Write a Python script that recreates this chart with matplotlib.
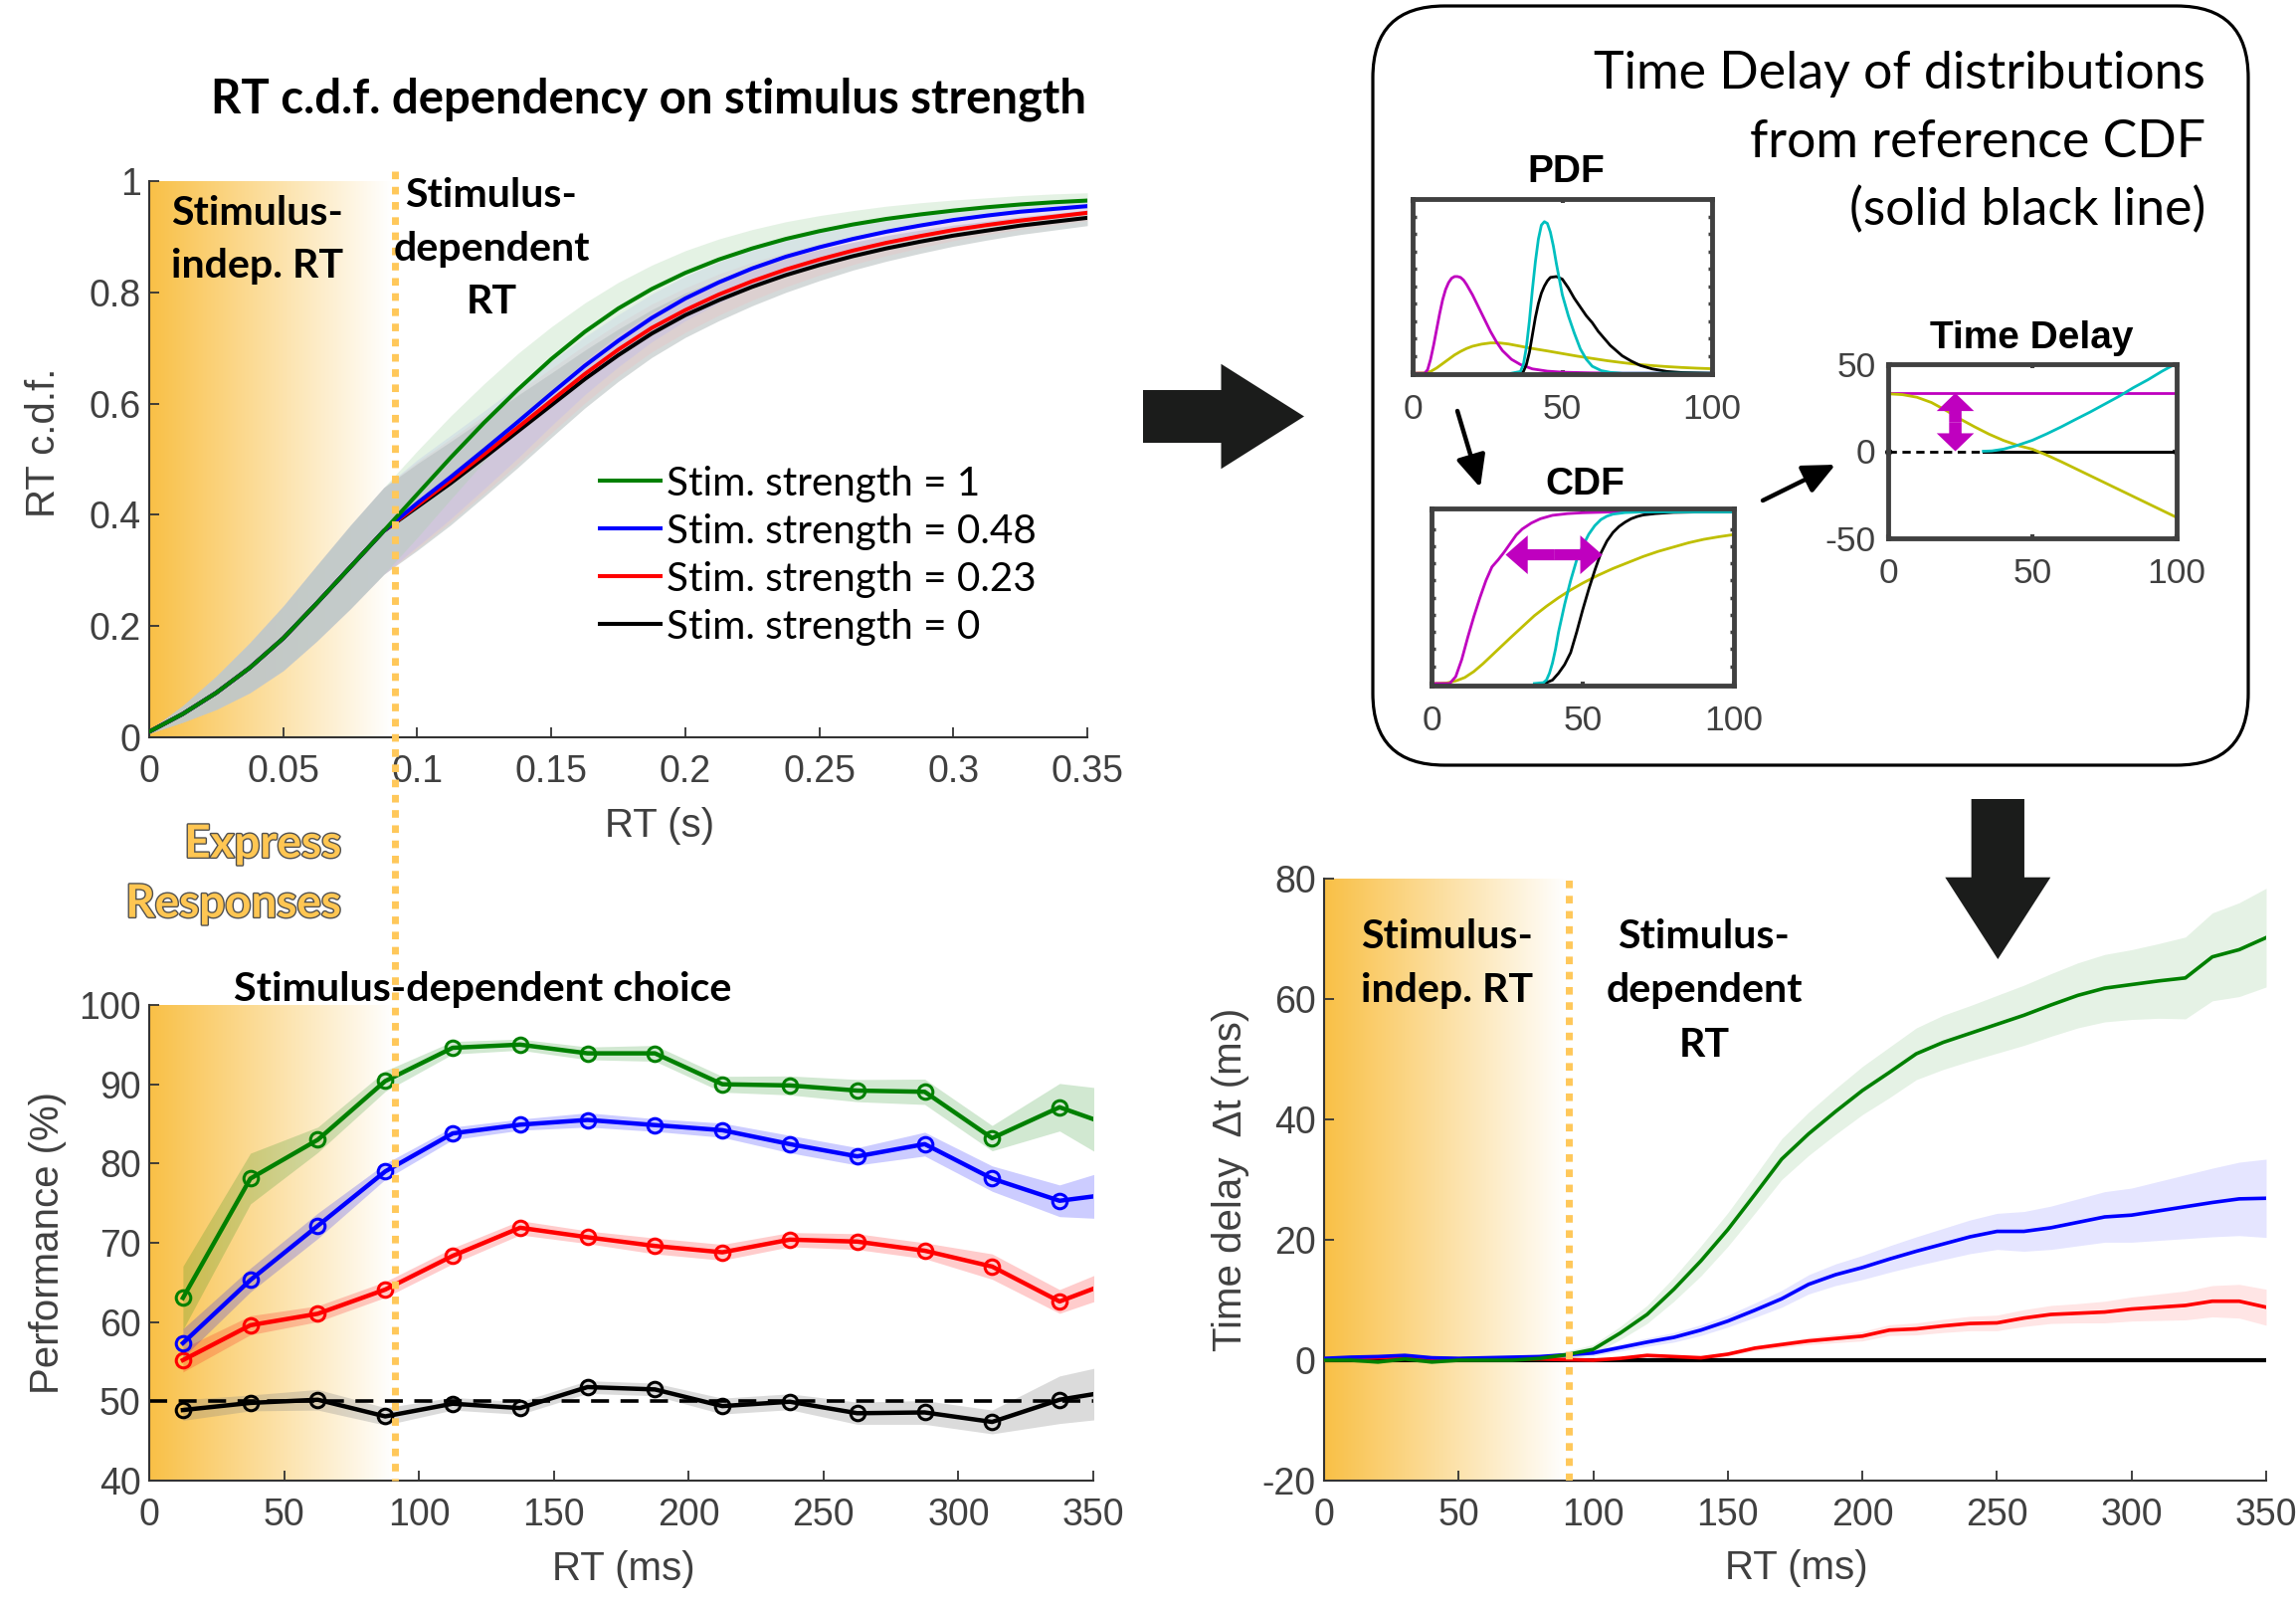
import numpy as np
import matplotlib
matplotlib.use("Agg")
import matplotlib.pyplot as plt
from matplotlib.patches import FancyBboxPatch, FancyArrow, FancyArrowPatch
from matplotlib.colors import to_rgb
import matplotlib.patheffects as pe

# ====================== DATA ======================
# --- top-left: RT c.d.f. (RT in s) ---
cdf_rt = [0.0, 0.0125, 0.025, 0.0375, 0.05, 0.0625, 0.075, 0.0875, 0.1, 0.1125,
          0.125, 0.1375, 0.15, 0.1625, 0.175, 0.1875, 0.2, 0.2125, 0.225, 0.2375,
          0.25, 0.2625, 0.275, 0.2875, 0.3, 0.3125, 0.325, 0.3375, 0.35]
cdf_early = [0.01, 0.042, 0.08, 0.125, 0.178, 0.241, 0.306, 0.371]
cdf_s1 = cdf_early + [0.437, 0.503, 0.566, 0.625, 0.68, 0.729, 0.771, 0.806, 0.835, 0.859,
                      0.879, 0.896, 0.91, 0.922, 0.932, 0.94, 0.947, 0.953, 0.958, 0.962, 0.965]
cdf_s048 = cdf_early + [0.421, 0.468, 0.517, 0.567, 0.618, 0.668, 0.713, 0.754, 0.789, 0.818,
                        0.843, 0.864, 0.881, 0.896, 0.909, 0.92, 0.93, 0.938, 0.945, 0.95, 0.955]
cdf_s023 = cdf_early + [0.417, 0.462, 0.509, 0.557, 0.605, 0.653, 0.697, 0.736, 0.768, 0.796,
                        0.82, 0.841, 0.859, 0.875, 0.889, 0.901, 0.912, 0.921, 0.929, 0.936, 0.943]
cdf_s0 = cdf_early + [0.414, 0.457, 0.503, 0.55, 0.597, 0.644, 0.687, 0.726, 0.759, 0.786,
                      0.81, 0.831, 0.849, 0.865, 0.879, 0.891, 0.902, 0.911, 0.92, 0.927, 0.934]
cdf_band = [0.003, 0.015, 0.03, 0.045, 0.058, 0.068, 0.075, 0.078, 0.078, 0.075, 0.07, 0.065,
            0.058, 0.052, 0.047, 0.043, 0.04, 0.037, 0.034, 0.031, 0.028, 0.025, 0.023, 0.021,
            0.019, 0.017, 0.016, 0.015, 0.014]
cdf_xticks = [0, 0.05, 0.1, 0.15, 0.2, 0.25, 0.3, 0.35]
cdf_xticklabels = ["0", "0.05", "0.1", "0.15", "0.2", "0.25", "0.3", "0.35"]
cdf_yticks = [0, 0.2, 0.4, 0.6, 0.8, 1.0]
cdf_yticklabels = ["0", "0.2", "0.4", "0.6", "0.8", "1"]
legend_labels = ["Stim. strength = 1", "Stim. strength = 0.48",
                 "Stim. strength = 0.23", "Stim. strength = 0"]

# --- bottom-left: performance (%) vs RT (ms) ---
perf_rt = [12.5, 37.5, 62.5, 87.5, 112.5, 137.5, 162.5, 187.5, 212.5, 237.5,
           262.5, 287.5, 312.5, 337.5, 362.5]
perf_s1 = [63.05, 78.1, 83.0, 90.4, 94.6, 95.0, 93.9, 93.9, 90.0, 89.85, 89.2, 89.05, 83.2, 87.1, 84.1]
perf_s048 = [57.35, 65.3, 72.15, 79.0, 83.8, 84.9, 85.5, 84.85, 84.2, 82.45, 80.9, 82.45, 78.1, 75.3, 76.4]
perf_s023 = [55.2, 59.6, 61.05, 64.1, 68.35, 71.9, 70.7, 69.6, 68.8, 70.4, 70.15, 69.0, 67.0, 62.6, 65.8]
perf_s0 = [48.9, 49.8, 50.2, 48.1, 49.7, 49.15, 51.8, 51.5, 49.4, 49.95, 48.5, 48.6, 47.4, 50.2, 51.6]
perf_b1 = [4.0, 3.2, 1.6, 1.3, 0.8, 0.7, 0.8, 1.0, 1.0, 1.2, 1.4, 1.6, 1.6, 3.0, 5.0]
perf_b048 = [1.8, 1.5, 1.6, 1.0, 0.8, 0.7, 0.9, 0.8, 0.9, 1.1, 1.1, 1.5, 1.6, 2.0, 3.5]
perf_b023 = [1.5, 1.2, 1.0, 1.0, 1.0, 0.9, 0.8, 1.0, 1.0, 0.9, 1.0, 1.0, 1.6, 1.5, 1.8]
perf_b0 = [1.3, 1.0, 1.3, 1.1, 0.8, 0.8, 0.8, 0.8, 1.0, 1.0, 1.4, 1.5, 1.5, 3.0, 3.5]
chance_level = 50
perf_xticks = [0, 50, 100, 150, 200, 250, 300, 350]
perf_yticks = [40, 50, 60, 70, 80, 90, 100]

# --- bottom-right: time delay (ms) vs RT (ms) ---
td_rt = [0, 10, 20, 30, 40, 50, 60, 70, 80, 90, 100, 110, 120, 130, 140, 150, 160, 170,
         180, 190, 200, 210, 220, 230, 240, 250, 260, 270, 280, 290, 300, 310, 320, 330, 340, 350]
td_s1 = [0, 0, -0.3, 0.2, -0.3, 0, 0, 0, 0.3, 0.9,
         1.8, 4.5, 7.6, 11.8, 16.5, 21.7, 27.5, 33.4, 37.6, 41.3,
         44.8, 47.8, 50.9, 52.8, 54.3, 55.8, 57.3, 59.0, 60.6, 61.8,
         62.4, 63.0, 63.5, 67.0, 68.2, 70.2]
td_s048 = [0.3, 0.5, 0.6, 0.8, 0.4, 0.3, 0.4, 0.5, 0.6, 0.9,
           1.2, 2.1, 3.0, 3.8, 5.0, 6.5, 8.3, 10.2, 12.6, 14.2,
           15.4, 16.8, 18.1, 19.3, 20.5, 21.4, 21.4, 22.0, 22.9, 23.8,
           24.1, 24.8, 25.5, 26.2, 26.8, 26.9]
td_s023 = [0, 0.2, 0.4, 0.5, 0.3, 0.2, 0.3, 0.2, 0.2, 0.1,
           0.0, 0.3, 0.8, 0.6, 0.4, 1.0, 2.0, 2.6, 3.2, 3.6,
           4.0, 5.0, 5.2, 5.7, 6.1, 6.2, 7.0, 7.6, 7.8, 8.0,
           8.5, 8.8, 9.1, 9.8, 9.8, 8.8]
td_s0 = [0, 0, 0, 0, 0, 0, 0, 0, 0, 0, 0, 0, 0, 0, 0, 0, 0, 0,
         0, 0, 0, 0, 0, 0, 0, 0, 0, 0, 0, 0, 0, 0, 0, 0, 0, 0]
td_b1 = [0.3, 0.3, 0.3, 0.3, 0.3, 0.3, 0.3, 0.3, 0.4, 0.6, 0.8, 1.1, 1.5, 2.0, 2.5, 2.8, 3.1, 3.4,
         3.6, 3.8, 4.0, 4.2, 4.3, 4.5, 4.6, 4.8, 5.0, 5.2, 5.4, 5.6, 5.8, 6.2, 6.8, 7.3, 7.8, 8.2]
td_b048 = [0.3, 0.3, 0.3, 0.3, 0.3, 0.3, 0.3, 0.3, 0.3, 0.4, 0.5, 0.6, 0.7, 0.8, 0.9, 1.0, 1.2, 1.4,
           1.6, 1.8, 2.0, 2.2, 2.4, 2.6, 2.8, 3.0, 3.3, 3.6, 3.9, 4.2, 4.5, 4.9, 5.3, 5.7, 6.1, 6.5]
td_b023 = [0.3, 0.3, 0.3, 0.3, 0.3, 0.3, 0.3, 0.3, 0.3, 0.3, 0.3, 0.3, 0.3, 0.3, 0.3, 0.3, 0.4, 0.5,
           0.6, 0.7, 0.8, 0.9, 1.0, 1.1, 1.2, 1.3, 1.4, 1.5, 1.6, 1.8, 2.0, 2.2, 2.4, 2.6, 2.8, 3.0]
td_xticks = [0, 50, 100, 150, 200, 250, 300, 350]
td_yticks = [-20, 0, 20, 40, 60, 80]
td_yticklabels = ["-20", "0", "20", "40", "60", "80"]

divide_ms = 91  # boundary stimulus-independent / dependent RT

# --- schematic inset: PDF ---
pdf_m_x = [0, 4, 5, 6, 7, 8, 9, 10, 11, 12, 13, 14, 15, 16, 17, 18, 20, 22, 24, 26, 28, 30, 33, 36, 40, 45, 50, 60, 70, 100]
pdf_m_y = [0, 0, 0.02, 0.08, 0.16, 0.25, 0.34, 0.42, 0.48, 0.52, 0.545, 0.555, 0.555, 0.55, 0.535, 0.51,
           0.45, 0.38, 0.31, 0.24, 0.18, 0.13, 0.08, 0.05, 0.025, 0.012, 0.006, 0.002, 0, 0]
pdf_c_x = [33, 36, 37, 38, 39, 40, 41, 42, 43, 44, 45, 46, 47, 48, 49, 50, 52, 54, 56, 58, 60, 63, 66, 70, 100]
pdf_c_y = [0, 0.01, 0.05, 0.15, 0.3, 0.48, 0.64, 0.77, 0.85, 0.87, 0.86, 0.81, 0.73, 0.63, 0.54, 0.45,
           0.33, 0.23, 0.14, 0.08, 0.04, 0.015, 0.005, 0, 0]
pdf_k_x = [36, 37, 38, 39, 40, 41, 42, 43, 44, 45, 46, 48, 50, 52, 54, 56, 58, 60, 62, 64, 66, 68, 70,
           73, 76, 80, 85, 90, 100]
pdf_k_y = [0, 0.01, 0.05, 0.12, 0.22, 0.32, 0.4, 0.46, 0.5, 0.53, 0.55, 0.555, 0.54, 0.49, 0.43, 0.38,
           0.33, 0.29, 0.24, 0.2, 0.16, 0.13, 0.1, 0.07, 0.045, 0.025, 0.01, 0.004, 0]
pdf_y_x = [0, 4, 6, 8, 10, 12, 14, 16, 18, 20, 23, 26, 29, 32, 36, 40, 45, 50, 55, 60, 65, 70, 75,
           80, 85, 90, 95, 100]
pdf_y_y = [0, 0.002, 0.01, 0.03, 0.055, 0.08, 0.105, 0.125, 0.142, 0.155, 0.167, 0.174, 0.174, 0.168,
           0.155, 0.142, 0.128, 0.113, 0.098, 0.085, 0.072, 0.061, 0.051, 0.044, 0.038, 0.033, 0.029, 0.026]
# --- schematic inset: CDF ---
icdf_m_x = [0, 6, 8, 10, 12, 14, 16, 18, 20, 22, 24, 26, 28, 30, 33, 36, 40, 45, 50, 60, 100]
icdf_m_y = [0, 0, 0.04, 0.14, 0.27, 0.39, 0.5, 0.6, 0.68, 0.72, 0.765, 0.815, 0.865, 0.9, 0.935,
            0.96, 0.98, 0.99, 0.995, 1, 1]
icdf_c_x = [34, 37, 38, 39, 40, 41, 42, 43, 44, 45, 46, 47, 48, 50, 52, 54, 56, 58, 60, 64, 70, 100]
icdf_c_y = [0, 0.005, 0.02, 0.06, 0.12, 0.2, 0.3, 0.38, 0.46, 0.53, 0.6, 0.66, 0.72, 0.8, 0.87,
            0.92, 0.955, 0.975, 0.987, 0.996, 1, 1]
icdf_k_x = [36, 38, 40, 42, 44, 46, 48, 50, 52, 54, 56, 58, 60, 62, 64, 66, 68, 70, 74, 80, 90, 100]
icdf_k_y = [0, 0.005, 0.02, 0.06, 0.11, 0.18, 0.3, 0.43, 0.55, 0.66, 0.76, 0.83, 0.88, 0.915, 0.94,
            0.96, 0.973, 0.982, 0.99, 0.997, 1, 1]
icdf_y_x = [0, 5, 8, 11, 14, 17, 20, 23, 26, 30, 34, 38, 42, 46, 50, 55, 60, 65, 70, 75, 80, 85, 90, 95, 100]
icdf_y_y = [0, 0.003, 0.015, 0.035, 0.07, 0.115, 0.165, 0.215, 0.265, 0.33, 0.395, 0.45, 0.5, 0.545,
            0.585, 0.63, 0.67, 0.705, 0.74, 0.77, 0.795, 0.82, 0.84, 0.855, 0.868]
# --- schematic inset: time delay ---
itd_m_x = [0, 100]
itd_m_y = [33.4, 33.4]
itd_y_x = [0, 5, 10, 15, 20, 25, 30, 35, 40, 45, 50, 55, 60, 65, 70, 75, 80, 85, 90, 95, 100]
itd_y_y = [33, 32.5, 31, 28, 23.5, 18.5, 14, 9.8, 6.2, 3.3, 1.2, -2.2, -6, -10, -14, -18, -22, -26,
           -30, -34, -38]
itd_c_x = [33, 36, 40, 45, 50, 55, 60, 65, 70, 75, 80, 85, 90, 95, 100]
itd_c_y = [0, 0.2, 1.2, 3.5, 6.3, 10, 14, 18.3, 22.5, 27, 31.5, 36.5, 41, 46, 50.5]
itd_kdash_x = [0, 33]
itd_kdash_y = [0, 0]
itd_k_x = [33, 100]
itd_k_y = [0, 0]
inset_xticks = [0, 50, 100]
itd_yticks = [-50, 0, 50]
itd_yticklabels = ["-50", "0", "50"]
inset_minor = [0.1, 0.2, 0.3, 0.4, 0.5, 0.6, 0.7, 0.8, 0.9]

# ====================== STYLE ======================
W, H = 2308, 1609
GREEN, BLUE, RED, BLACK = "#008000", "#0000FF", "#FF0000", "#000000"
MAG, CYA, YEL = "#BF00BF", "#00BFBF", "#BFBF00"
ORANGE = "#F9C046"
DOT = "#FFC85A"
AXC = "#333333"
TXT = "#404040"
CAL = "Lato"
plt.rcParams["font.family"] = ["Liberation Sans", "DejaVu Sans"]

fig = plt.figure(figsize=(W / 100, H / 100), dpi=100)
R = fig.canvas.get_renderer()


def px_axes(x0, y0, x1, y1, **kw):
    return fig.add_axes([x0 / W, 1 - y1 / H, (x1 - x0) / W, (y1 - y0) / H], **kw)


def lab_coords(ax, px, py):
    return ax.transAxes.inverted().transform((px, H - py))


def gradient(ax, x1, y0, y1):
    t = np.linspace(0, 1, 256)[:, None]
    c0 = np.array(to_rgb(ORANGE))[None, :]
    img = (c0 * (1 - t) + np.ones((1, 3)) * t)[None, :, :]
    ax.imshow(img, extent=[0, x1, y0, y1], aspect="auto", zorder=0, interpolation="bilinear")


def style_main(ax):
    for s in ["top", "right"]:
        ax.spines[s].set_visible(False)
    for s in ["left", "bottom"]:
        ax.spines[s].set_color(AXC)
        ax.spines[s].set_linewidth(1.5)
    ax.tick_params(direction="in", length=7, width=1.3, color=AXC, labelcolor=TXT, labelsize=27)
    ax.tick_params(axis="x", pad=12)
    ax.tick_params(axis="y", pad=6)


def style_inset(ax):
    for s in ax.spines.values():
        s.set_color("#404040")
        s.set_linewidth(3.5)
    ax.tick_params(direction="in", top=True, right=True, length=3, width=3, color="#404040",
                   labelcolor=TXT, labelsize=25.5, pad=9)
    ax.tick_params(axis="x", pad=14)
    ax.set_xlim(0, 100)
    ax.set_xticks(inset_xticks)


def fit(texts, ref, width):
    w = ref.get_window_extent(R).width
    f = ref.get_fontsize() * width / w
    for t in texts:
        t.set_fontsize(f)
    return f


# ====================== AXES ======================
ax1 = px_axes(150, 182, 1093, 741)
ax2 = px_axes(150, 1010, 1099, 1488)
ax3 = px_axes(1331, 883, 2278, 1488)
axp = px_axes(1420, 200, 1721, 376)
axc = px_axes(1439, 511, 1743, 689)
axt = px_axes(1898, 366, 2188, 541)
ov = fig.add_axes([0, 0, 1, 1], zorder=10)
ov.set_xlim(0, W)
ov.set_ylim(H, 0)
ov.axis("off")

# ---------- top-left ----------
gradient(ax1, 0.09, 0, 1)
band = np.array(cdf_band)
for ys, bc, a in [(cdf_s0, "#CDD3D3", 0.85), (cdf_s023, "#FFB0B0", 0.2),
                  (cdf_s048, "#B0B0FF", 0.25), (cdf_s1, "#A8D4A8", 0.3)]:
    ys = np.array(ys)
    ax1.fill_between(cdf_rt, ys - band, ys + band, color=bc, alpha=a, lw=0, zorder=1)
lines1 = []
for ys, c in [(cdf_s0, BLACK), (cdf_s023, RED), (cdf_s048, BLUE), (cdf_s1, GREEN)]:
    (l,) = ax1.plot(cdf_rt, ys, color=c, lw=2.9, zorder=3)
    lines1.append(l)
ax1.set_xlim(0, 0.35)
ax1.set_ylim(0, 1)
ax1.set_xticks(cdf_xticks)
ax1.set_xticklabels(cdf_xticklabels)
ax1.set_yticks(cdf_yticks)
ax1.set_yticklabels(cdf_yticklabels)
style_main(ax1)
ax1.set_xlabel("RT (s)", fontsize=29, color=TXT, va="center")
ax1.xaxis.set_label_coords(*lab_coords(ax1, 663, 830))
ax1.set_ylabel("RT c.d.f.", fontsize=29, color=TXT, va="center")
ax1.yaxis.set_label_coords(*lab_coords(ax1, 44, 445))

probe = ov.text(0, 0, legend_labels[1], family=CAL, fontsize=30)
legfs = fit([probe], probe, 371)
th = probe.get_window_extent(R).height
probe.remove()
spx = legfs * 100 / 72
leg = ax1.legend(lines1[::-1], legend_labels, loc="upper left",
                 bbox_to_anchor=(603, 486 - th / 2), bbox_transform=ov.transData,
                 frameon=False, borderpad=0, borderaxespad=0, handlelength=61 / spx,
                 handletextpad=6 / spx, labelspacing=(48 - th) / spx,
                 prop={"family": CAL, "size": legfs})

# ---------- bottom-left ----------
gradient(ax2, 90, 40, 100)
ax2.plot([0, 350], [chance_level, chance_level], color=BLACK, lw=2.6, ls=(0, (5, 3.2)), zorder=2)
for ys, bs, c, bc, a in [(perf_s0, perf_b0, BLACK, "#808080", 0.28), (perf_s023, perf_b023, RED, RED, 0.2),
                         (perf_s048, perf_b048, BLUE, BLUE, 0.2), (perf_s1, perf_b1, GREEN, GREEN, 0.18)]:
    ys = np.array(ys)
    bs = np.array(bs)
    ax2.fill_between(perf_rt, ys - bs, ys + bs, color=bc, alpha=a, lw=0, zorder=1)
    ax2.plot(perf_rt, ys, color=c, lw=3.2, marker="o", ms=10.5, mfc="none", mew=2.2, zorder=3)
ax2.set_xlim(0, 350)
ax2.set_ylim(40, 100)
ax2.set_xticks(perf_xticks)
ax2.set_yticks(perf_yticks)
style_main(ax2)
ax2.set_xlabel("RT (ms)", fontsize=29, color=TXT, va="center")
ax2.xaxis.set_label_coords(*lab_coords(ax2, 627, 1577))
ax2.set_ylabel("Performance (%)", fontsize=29, color=TXT, va="center")
ax2.yaxis.set_label_coords(*lab_coords(ax2, 48, 1249))

# ---------- bottom-right ----------
gradient(ax3, 90, -20, 80)
ax3.plot(td_rt, td_s0, color=BLACK, lw=3.0, zorder=2)
for ys, bs, c, a in [(td_s023, td_b023, RED, 0.1), (td_s048, td_b048, BLUE, 0.1), (td_s1, td_b1, GREEN, 0.1)]:
    ys = np.array(ys)
    bs = np.array(bs)
    ax3.fill_between(td_rt, ys - bs, ys + bs, color=c, alpha=a, lw=0, zorder=1)
    ax3.plot(td_rt, ys, color=c, lw=2.6, zorder=3)
ax3.axvline(divide_ms, color=DOT, lw=5, ls=(0, (1.1, 1.1)), zorder=4)
ax3.set_xlim(0, 350)
ax3.set_ylim(-20, 80)
ax3.set_xticks(td_xticks)
ax3.set_yticks(td_yticks)
ax3.set_yticklabels(td_yticklabels)
style_main(ax3)
ax3.set_xlabel("RT (ms)", fontsize=29, color=TXT, va="center")
ax3.xaxis.set_label_coords(*lab_coords(ax3, 1806, 1576))
ax3.set_ylabel("Time delay  \u0394t (ms)", fontsize=29, color=TXT, va="center")
ax3.yaxis.set_label_coords(*lab_coords(ax3, 1237, 1185))

# ---------- inset PDF ----------
for xs, ys, c in [(pdf_y_x, pdf_y_y, YEL), (pdf_m_x, pdf_m_y, MAG), (pdf_k_x, pdf_k_y, BLACK),
                  (pdf_c_x, pdf_c_y, CYA)]:
    axp.plot(xs, ys, color=c, lw=2)
style_inset(axp)
axp.set_ylim(-0.005, 1.0)
axp.set_yticks(inset_minor)
axp.tick_params(axis="y", labelleft=False, length=3, width=2.5)

# ---------- inset CDF ----------
for xs, ys, c in [(icdf_y_x, icdf_y_y, YEL), (icdf_m_x, icdf_m_y, MAG), (icdf_k_x, icdf_k_y, BLACK),
                  (icdf_c_x, icdf_c_y, CYA)]:
    axc.plot(xs, ys, color=c, lw=2)
style_inset(axc)
axc.set_ylim(-0.012, 1.02)
axc.set_yticks(inset_minor)
axc.tick_params(axis="y", labelleft=False, length=3, width=2.5)
for a, b in [((40.5, 0.75), (24.5, 0.75)), ((40.5, 0.75), (56.5, 0.75))]:
    axc.add_patch(FancyArrowPatch(a, b, arrowstyle="simple,head_length=16,head_width=28,tail_width=8",
                                  mutation_scale=1, color=MAG, lw=0, shrinkA=0, shrinkB=0, zorder=5))

# ---------- inset time delay ----------
axt.plot(itd_kdash_x, itd_kdash_y, color=BLACK, lw=2, ls=(0, (3, 2)))
axt.plot(itd_k_x, itd_k_y, color=BLACK, lw=2.2)
axt.plot([itd_k_x[-1]], [itd_k_y[-1]], "o", color=BLACK, ms=4)
axt.plot([itd_kdash_x[0]], [itd_kdash_y[0]], "o", color=BLACK, ms=4, clip_on=False)
for xs, ys, c in [(itd_m_x, itd_m_y, MAG), (itd_y_x, itd_y_y, YEL), (itd_c_x, itd_c_y, CYA)]:
    axt.plot(xs, ys, color=c, lw=2)
style_inset(axt)
axt.set_ylim(-50, 50)
axt.set_yticks(itd_yticks)
axt.set_yticklabels(itd_yticklabels)
for a, b in [((23.3, 16.7), (23.3, 33.4)), ((23.3, 16.7), (23.3, 0))]:
    axt.add_patch(FancyArrowPatch(a, b, arrowstyle="simple,head_length=13,head_width=27,tail_width=9",
                                  mutation_scale=1, color=MAG, lw=0, shrinkA=0, shrinkB=0, zorder=5))

# ====================== OVERLAY ======================
ov.add_patch(FancyBboxPatch((1380, 6), 880, 763, boxstyle="round,pad=0,rounding_size=72",
                            fc="none", ec="black", lw=2.3))
ov.add_patch(FancyArrow(1149, 418.5, 162, 0, width=53, head_width=105.5, head_length=83.5,
                        length_includes_head=True, color="#1b1c1b", lw=0))
ov.add_patch(FancyArrow(2008.3, 803, 0, 161, width=53.3, head_width=106, head_length=82.3,
                        length_includes_head=True, color="#1b1c1b", lw=0))
for a, b in [((1465, 413), (1488, 490)), ((1772, 503), (1845, 467))]:
    ov.add_patch(FancyArrowPatch(a, b, arrowstyle="-|>,head_length=0.65,head_width=0.3",
                                 mutation_scale=30, lw=3.2, color="black", shrinkA=0, shrinkB=0))

# vertical dotted boundary spanning both left panels
xd = ax2.transData.transform((divide_ms, 40))[0]
ytop = H - ax1.transAxes.transform((0, 1))[1] - 10
ybot = H - ax2.transAxes.transform((0, 0))[1]
ov.plot([xd, xd], [ytop, ybot], color=DOT, lw=5, ls=(0, (1.1, 1.1)))

t = ov.text(652.5, 113.6, "RT c.d.f. dependency on stimulus strength", family=CAL, weight="bold",
            fontsize=30, ha="center", va="baseline")
fit([t], t, 879)

tA = ov.text(259, 226, "Stimulus-", family=CAL, weight="bold", fontsize=26, ha="center", va="baseline")
tB = ov.text(259, 279, "indep. RT", family=CAL, weight="bold", fontsize=26, ha="center", va="baseline")
tC = ov.text(494, 208, "Stimulus-", family=CAL, weight="bold", fontsize=26, ha="center", va="baseline")
tD = ov.text(494, 261.5, "dependent", family=CAL, weight="bold", fontsize=26, ha="center", va="baseline")
tE = ov.text(494, 315, "RT", family=CAL, weight="bold", fontsize=26, ha="center", va="baseline")
tF = ov.text(1455, 953, "Stimulus-", family=CAL, weight="bold", fontsize=26, ha="center", va="baseline")
tG = ov.text(1455, 1007, "indep. RT", family=CAL, weight="bold", fontsize=26, ha="center", va="baseline")
tH = ov.text(1713, 953, "Stimulus-", family=CAL, weight="bold", fontsize=26, ha="center", va="baseline")
tI = ov.text(1713, 1007, "dependent", family=CAL, weight="bold", fontsize=26, ha="center", va="baseline")
tJ = ov.text(1713, 1061.5, "RT", family=CAL, weight="bold", fontsize=26, ha="center", va="baseline")
fit([tA, tB, tC, tD, tE, tF, tG, tH, tI, tJ], tD, 198)

tK = ov.text(485, 1005.5, "Stimulus-dependent choice", family=CAL, weight="bold", fontsize=26,
             ha="center", va="baseline")
fit([tK], tK, 501)

ex1 = ov.text(343, 861.7, "Express", family=CAL, weight="bold", fontsize=26, ha="right",
              va="baseline", color="#FFC652")
ex2 = ov.text(343, 921.7, "Responses", family=CAL, weight="bold", fontsize=26, ha="right",
              va="baseline", color="#FFC652")
fit([ex1, ex2], ex2, 216)
for e in (ex1, ex2):
    e.set_path_effects([pe.withStroke(linewidth=2.0, foreground="#505050")])

b1 = ov.text(2217, 88.6, "Time Delay of distributions", family=CAL, fontsize=36, ha="right", va="baseline")
b2 = ov.text(2217, 158, "from reference CDF", family=CAL, fontsize=36, ha="right", va="baseline")
b3 = ov.text(2217, 226, "(solid black line)", family=CAL, fontsize=36, ha="right", va="baseline")
fit([b1, b2, b3], b1, 617)

ov.text(1574, 183, "PDF", weight="bold", fontsize=28, ha="center", va="baseline")
ov.text(1593, 496.5, "CDF", weight="bold", fontsize=28, ha="center", va="baseline")
ov.text(2042, 350, "Time Delay", weight="bold", fontsize=28, ha="center", va="baseline")

fig.savefig("out.png", dpi=100)
